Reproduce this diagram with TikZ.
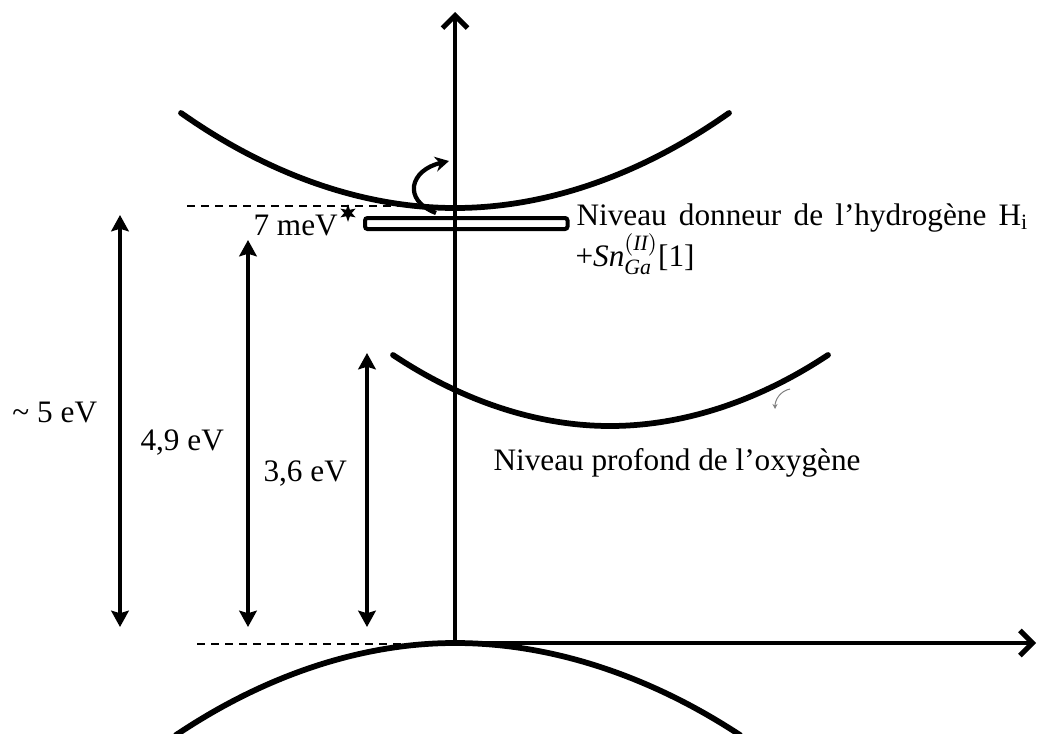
\documentclass[tikz,border=0pt]{standalone}
\usepackage{fontspec}
\setmainfont{Liberation Serif}
\usetikzlibrary{arrows.meta,shapes.geometric}

\begin{document}
\begin{tikzpicture}[x=0.4pt,y=-0.4pt,
 band/.style={line width=2.3pt,line cap=round},
 axis/.style={line width=1.7pt,-{Straight Barb[length=5pt,width=10pt,line width=2pt]}},
 gap/.style={line width=1.7pt,{Stealth[length=6.5pt,width=7pt,inset=1pt]}-{Stealth[length=6.5pt,width=7pt,inset=1pt]}},
 level/.style={dash pattern=on 3.2pt off 2.4pt,line width=0.6pt},
 lbl/.style={font=\fontsize{12.5}{15}\selectfont,inner sep=0pt,anchor=base west}
]
\useasboundingbox (0,0) rectangle (1038,733);
% axes
\coordinate (O) at (455,643);
\coordinate (Etop) at (455,12);
\coordinate (kend) at (1036,643);
\draw[axis] (O) -- (Etop);
\draw[axis] (O) -- (kend);
% bands
\draw[band] (181,113) parabola bend (455,208) (729,113);
\draw[band] (393,355) parabola bend (610,426) (828,355);
\draw[band] (176,735) parabola bend (455,643) (740,735);
% reference levels
\draw[level] (187,206) -- (430,206);
\draw[level] (197,644) -- (415,644);
% donor level
\node[draw,line width=1.6pt,rounded corners=1pt,inner sep=0pt,anchor=north west,
      minimum width=81pt,minimum height=4.4pt] (donor) at (363,216) {};
\node[star,star points=6,star point ratio=2.3,fill,inner sep=0pt,minimum size=7pt] (star) at (348,213) {};
\coordinate (hopA) at (436,213);
\coordinate (hopB) at (449,161);
\draw[line width=1.7pt,-{Stealth[length=5.5pt,width=6pt]}] (hopA) .. controls (402,200) and (410,170) .. (hopB);
% gaps
\coordinate (g1t) at (120,215); \coordinate (g1b) at (120,627);
\coordinate (g2t) at (248,240); \coordinate (g2b) at (248,627);
\coordinate (g3t) at (367,353); \coordinate (g3b) at (367,627);
\draw[gap] (g1b) -- (g1t);
\draw[gap] (g2b) -- (g2t);
\draw[gap] (g3b) -- (g3t);
\node[lbl] (l5) at (12,422) {\textasciitilde{} 5 eV};
\node[lbl] (l49) at (140,450) {4,9 eV};
\node[lbl] (l36) at (263,481) {3,6 eV};
\node[lbl] (lmev) at (253,235) {7 meV};
% level labels
\node[lbl] (ldon) at (576,225) {\spaceskip=4.9pt Niveau donneur de l’hydrogène H\textsubscript{i}};
\node[lbl] (lsn) at (575,266) {+$\mathit{Sn}_{\mathit{Ga}}^{(\mathit{II})}$[1]};
\node[lbl] (lox) at (493,470) {Niveau profond de l’oxygène};
% small mark
\coordinate (mkA) at (790,389);
\coordinate (mkB) at (775,409);
\draw[gray,line width=0.4pt,-{Stealth[length=2pt,width=2pt]}] (mkA) .. controls (780,391) and (775,400) .. (mkB);
\end{tikzpicture}
\end{document}
